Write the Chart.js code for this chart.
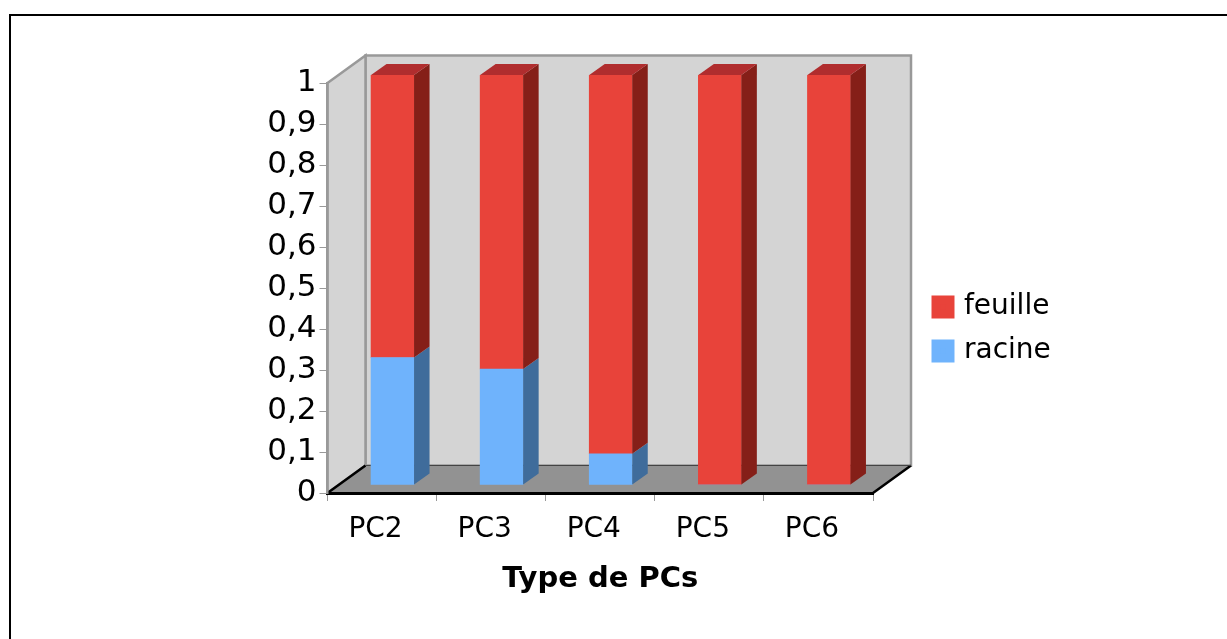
<!DOCTYPE html>
<html lang="fr">
<head>
<meta charset="utf-8">
<title>Type de PCs</title>
<script src="https://cdn.jsdelivr.net/npm/chart.js@4/dist/chart.umd.min.js"></script>
<style>
  html, body { margin: 0; padding: 0; background: #fff; overflow: hidden; }
  #wrap { position: relative; width: 1227px; height: 639px; }
  #frame { position: absolute; left: 9px; top: 14px; right: 0; bottom: 0; border-left: 2px solid #000; border-top: 2px solid #000; }
  canvas { position: absolute; left: 0; top: 0; }
</style>
</head>
<body>
<div id="wrap">
  <div id="frame"></div>
  <canvas id="chart" width="1227" height="639"></canvas>
</div>
<script>
const categories = ['PC2', 'PC3', 'PC4', 'PC5', 'PC6'];
const racine = [0.311, 0.283, 0.076, 0, 0];
const feuille = [0.689, 0.717, 0.924, 1, 1];

const COLORS = {
  feuille: '#e8433a',
  feuilleSide: '#851f18',
  feuilleTop: '#b02d2e',
  racine: '#6fb3fc',
  racineSide: '#3f6c9b',
  wall: '#d4d4d4',
  wallEdge: '#999999',
  floor: '#929292',
  text: '#000000',
};

const FONT = "'DejaVu Sans', sans-serif";
// depth of the floor and walls, of the bars, and where the bars stand on the floor
const DEPTH = { x: 38, y: -27.5 };
const BAR_DEPTH = { x: 15.5, y: -11 };
const BAR_SHIFT = { x: 10.5, y: -8 };

function poly(ctx, pts, fill, stroke, width) {
  ctx.beginPath();
  pts.forEach((p, i) => (i ? ctx.lineTo(p[0], p[1]) : ctx.moveTo(p[0], p[1])));
  ctx.closePath();
  if (fill) {
    ctx.fillStyle = fill;
    ctx.fill();
  }
  if (stroke) {
    ctx.strokeStyle = stroke;
    ctx.lineWidth = width;
    ctx.stroke();
  }
}

// back wall, side wall and floor
const room = {
  id: 'room',
  beforeDraw(chart) {
    const { ctx, chartArea: a } = chart;
    const dx = DEPTH.x, dy = DEPTH.y;
    ctx.save();
    poly(ctx, [[a.left + dx, a.top + dy], [a.right + dx, a.top + dy], [a.right + dx, a.bottom + dy], [a.left + dx, a.bottom + dy]],
      COLORS.wall, COLORS.wallEdge, 2.5);
    poly(ctx, [[a.left, a.top], [a.left + dx, a.top + dy], [a.left + dx, a.bottom + dy], [a.left, a.bottom]],
      COLORS.wall, COLORS.wallEdge, 2.5);
    poly(ctx, [[a.left, a.bottom], [a.right, a.bottom], [a.right + dx, a.bottom + dy], [a.left + dx, a.bottom + dy]],
      COLORS.floor);
    ctx.strokeStyle = '#000';
    ctx.lineWidth = 2.5;
    ctx.beginPath();
    ctx.moveTo(a.left, a.bottom);
    ctx.lineTo(a.left + dx, a.bottom + dy);
    ctx.moveTo(a.right, a.bottom);
    ctx.lineTo(a.right + dx, a.bottom + dy);
    ctx.stroke();
    ctx.lineWidth = 1;
    ctx.strokeStyle = '#444';
    ctx.beginPath();
    ctx.moveTo(a.left + dx, a.bottom + dy);
    ctx.lineTo(a.right + dx, a.bottom + dy);
    ctx.stroke();
    ctx.restore();
  },
};

// bars stand back from the axis; sides and tops come from the bar elements
const bars3d = {
  id: 'bars3d',
  beforeDatasetsDraw(chart) {
    chart.ctx.save();
    chart.ctx.translate(BAR_SHIFT.x, BAR_SHIFT.y);
  },
  afterDatasetsDraw(chart) {
    const ctx = chart.ctx;
    const dx = BAR_DEPTH.x, dy = BAR_DEPTH.y;
    chart.data.datasets.forEach((ds, i) => {
      chart.getDatasetMeta(i).data.forEach((bar, j) => {
        if (!ds.data[j]) return;
        const right = bar.x + bar.width / 2;
        const left = bar.x - bar.width / 2;
        poly(ctx, [[right, bar.y], [right + dx, bar.y + dy], [right + dx, bar.base + dy], [right, bar.base]], ds.sideColor);
        if (ds.topColor) {
          poly(ctx, [[left, bar.y], [left + dx, bar.y + dy], [right + dx, bar.y + dy], [right, bar.y]], ds.topColor);
        }
      });
    });
    ctx.restore();
  },
};

// legend sits apart from the plot, right of the room
const legendSpot = {
  id: 'legendSpot',
  afterLayout(chart) {
    const l = chart.legend;
    const w = l.width, h = l.height;
    l.left = 920;
    l.right = 920 + w;
    l.top = 329 - h / 2;
    l.bottom = l.top + h;
  },
};

new Chart(document.getElementById('chart'), {
  type: 'bar',
  data: {
    labels: categories,
    datasets: [
      { label: 'racine', data: racine, backgroundColor: COLORS.racine, sideColor: COLORS.racineSide },
      { label: 'feuille', data: feuille, backgroundColor: COLORS.feuille, sideColor: COLORS.feuilleSide, topColor: COLORS.feuilleTop },
    ],
  },
  options: {
    responsive: false,
    animation: false,
    barThickness: 43,
    layout: { padding: { left: 0, top: 83, right: 354, bottom: 0 } },
    plugins: {
      tooltip: { enabled: false },
      legend: {
        position: 'chartArea',
        reverse: true,
        labels: {
          color: COLORS.text,
          font: { family: FONT, size: 28 },
          boxWidth: 14,
          boxHeight: 14,
          padding: 16,
          generateLabels: (chart) => chart.data.datasets.map((ds, i) => ({
            text: ds.label,
            fillStyle: ds.backgroundColor,
            strokeStyle: ds.backgroundColor,
            lineWidth: 9,
            datasetIndex: i,
          })),
        },
      },
    },
    scales: {
      x: {
        stacked: true,
        afterFit: (s) => { s.height = 146; },
        grid: { drawOnChartArea: false, color: COLORS.wallEdge, tickLength: 8, offset: true },
        border: { color: '#000', width: 3 },
        ticks: { color: COLORS.text, font: { family: FONT, size: 28 }, padding: 12, labelOffset: -6.5, maxRotation: 0 },
        title: {
          display: true,
          text: 'Type de PCs',
          color: COLORS.text,
          font: { family: FONT, size: 29, weight: 'bold' },
          padding: { top: 0, bottom: 42 },
        },
      },
      y: {
        stacked: true,
        min: 0,
        max: 1,
        afterFit: (s) => { s.width = 327.5; },
        grid: { drawOnChartArea: false, color: COLORS.wallEdge, tickLength: 8 },
        border: { color: COLORS.wallEdge, width: 2.5 },
        ticks: {
          stepSize: 0.1,
          color: COLORS.text,
          font: { family: FONT, size: 31 },
          padding: 3,
          callback: (v) => String(Math.round(v * 10) / 10).replace('.', ','),
        },
      },
    },
  },
  plugins: [room, bars3d, legendSpot],
});
</script>
</body>
</html>
